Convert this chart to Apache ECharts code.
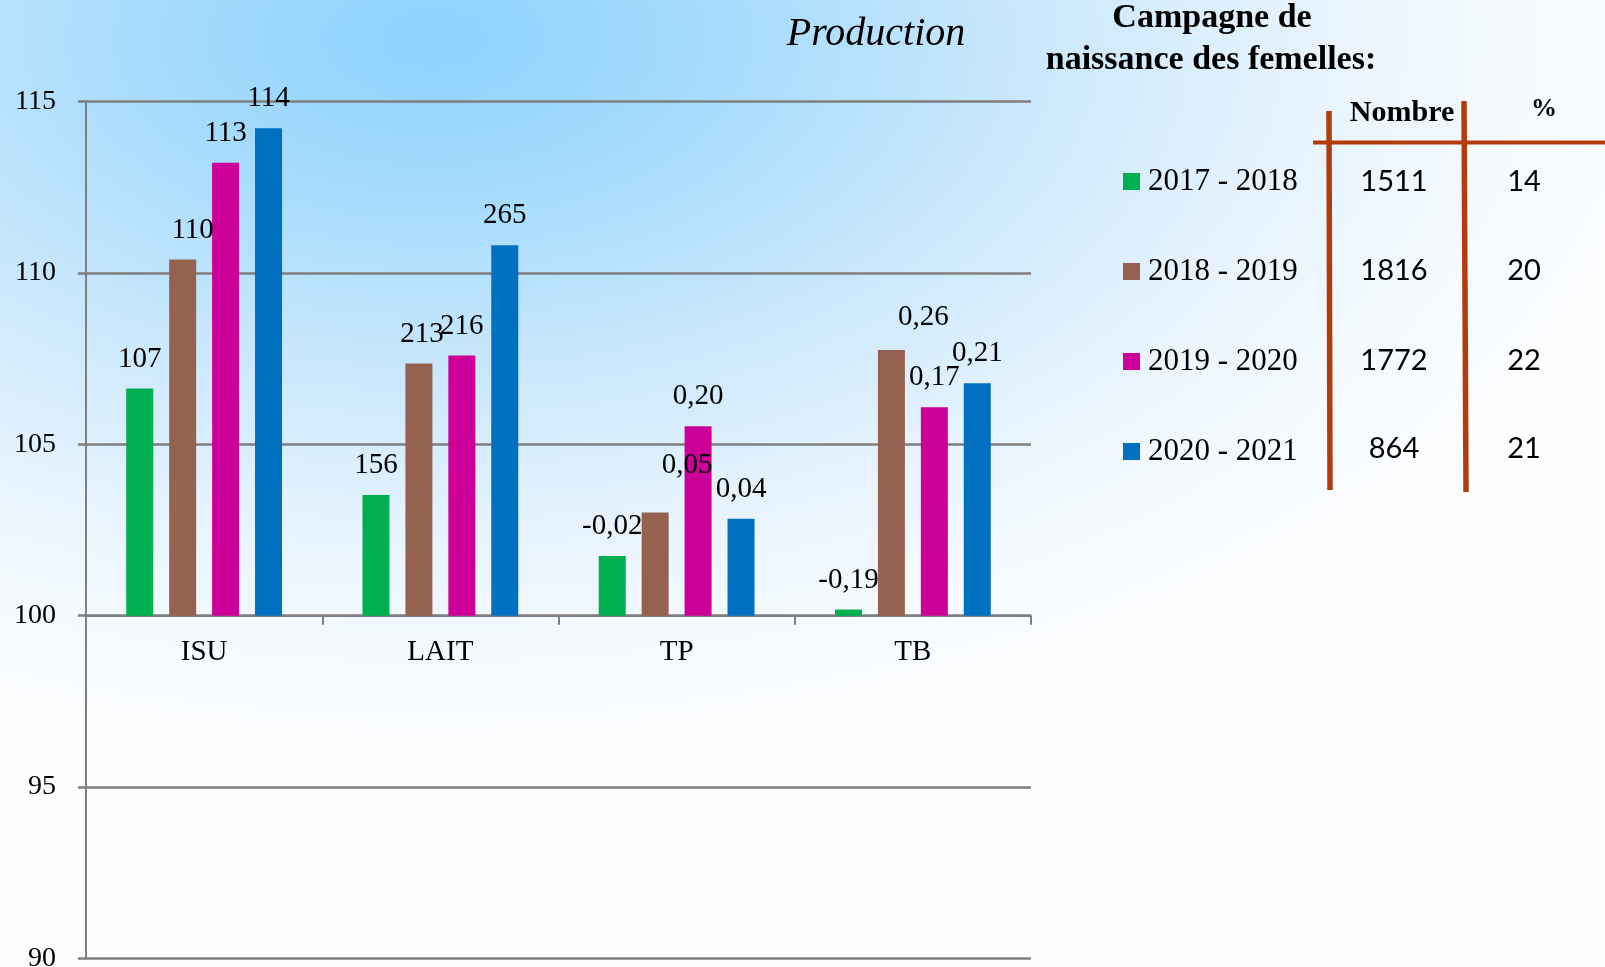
<!DOCTYPE html>
<html>
<head>
<meta charset="utf-8">
<script src="https://cdn.jsdelivr.net/npm/echarts@6/dist/echarts.min.js"></script>
<style>
html,body{margin:0;padding:0;width:1605px;height:967px;overflow:hidden;}
body{background:radial-gradient(ellipse 80% 75% at 27% 4%, #8cd2fd 0%, #a6dbfc 22%, #c8e7fc 45%, #e6f3fe 68%, #f7fbff 88%, #fdfeff 100%);}
#c{width:1605px;height:967px;}
</style>
</head>
<body>
<div id="c"></div>
<script>
const categories = ['ISU', 'LAIT', 'TP', 'TB'];
const seriesNames = ['2017 - 2018', '2018 - 2019', '2019 - 2020', '2020 - 2021'];
const values2017 = [106.63, 103.52, 101.74, 100.18];
const values2018 = [110.39, 107.36, 103.01, 107.75];
const values2019 = [113.21, 107.59, 105.53, 106.08];
const values2020 = [114.22, 110.81, 102.83, 106.78];
const labels2017 = ['107', '156', '-0,02', '-0,19'];
const labels2018 = ['110', '213', '0,05', '0,26'];
const labels2019 = ['113', '216', '0,20', '0,17'];
const labels2020 = ['114', '265', '0,04', '0,21'];
const yTicks = [90, 95, 100, 105, 110, 115];
const tableNombre = [1511, 1816, 1772, 864];
const tablePct = [14, 20, 22, 21];
const baseLine = 100;

const colors = ['#00b050', '#956250', '#cc0099', '#0070c0'];
const allValues = [values2017, values2018, values2019, values2020];
const allLabels = [labels2017, labels2018, labels2019, labels2020];
// label nudges (style, not data)
const labelNudge = {
  '1-0': [10, 0], '1-1': [3, 0], '1-2': [32, -18], '1-3': [32, -3]
};
const serif = '"Liberation Serif", "Times New Roman", serif';
const yMin = yTicks[0] - baseLine;
const yMax = yTicks[yTicks.length - 1] - baseLine;

const chart = echarts.init(document.getElementById('c'), null, {renderer: 'canvas'});

const series = allValues.map((vals, si) => ({
  name: seriesNames[si],
  type: 'bar',
  barWidth: 27,
  barGap: '59%',
  itemStyle: {color: colors[si]},
  data: vals.map((v, di) => {
    const item = {value: +(v - baseLine).toFixed(3)};
    const n = labelNudge[si + '-' + di];
    if (n) item.label = {offset: n};
    return item;
  }),
  label: {
    show: true,
    position: 'top',
    distance: 15,
    fontFamily: serif,
    fontSize: 29,
    color: '#000',
    formatter: p => allLabels[si][p.dataIndex]
  }
}));

const rowY = [182, 271, 361, 449];
const graphics = [
  {type: 'text', style: {text: 'Production', x: 876, y: 34, align: 'center', verticalAlign: 'middle', font: 'italic 40px ' + serif, fill: '#000'}},
  {type: 'text', style: {text: 'Campagne de', x: 1212, y: 18, align: 'center', verticalAlign: 'middle', font: 'bold 34px ' + serif, fill: '#000'}},
  {type: 'text', style: {text: 'naissance des femelles:', x: 1211, y: 60, align: 'center', verticalAlign: 'middle', font: 'bold 34px ' + serif, fill: '#000'}},
  {type: 'text', style: {text: 'Nombre', x: 1402, y: 113, align: 'center', verticalAlign: 'middle', font: 'bold 30px ' + serif, fill: '#000'}},
  {type: 'text', style: {text: '%', x: 1544, y: 109, align: 'center', verticalAlign: 'middle', font: 'bold 26px ' + serif, fill: '#000'}},
  {type: 'line', shape: {x1: 1313, y1: 142.5, x2: 1605, y2: 142.5}, style: {stroke: '#b33c0c', lineWidth: 4}},
  {type: 'line', shape: {x1: 1329, y1: 111, x2: 1330, y2: 490}, style: {stroke: '#b33c0c', lineWidth: 5.5}},
  {type: 'line', shape: {x1: 1464, y1: 101, x2: 1466, y2: 492}, style: {stroke: '#b33c0c', lineWidth: 5.5}}
];
tableNombre.forEach((v, i) => {
  graphics.push({type: 'text', style: {text: String(v), x: 1394, y: rowY[i], align: 'center', verticalAlign: 'middle', font: '29px Lato, "Open Sans", sans-serif', fill: '#000'}});
});
tablePct.forEach((v, i) => {
  graphics.push({type: 'text', style: {text: String(v), x: 1524, y: rowY[i], align: 'center', verticalAlign: 'middle', font: '29px Lato, "Open Sans", sans-serif', fill: '#000'}});
});

chart.setOption({
  backgroundColor: 'transparent',
  animation: false,
  grid: {left: 86, right: 574, top: 101.5, bottom: 8.5, containLabel: false, outerBoundsMode: 'none'},
  legend: {
    orient: 'vertical',
    left: 1118,
    top: 161,
    itemGap: 59,
    itemWidth: 17,
    itemHeight: 17,
    icon: 'rect',
    data: seriesNames,
    textStyle: {fontFamily: serif, fontSize: 31, color: '#000', padding: [0, 0, 0, 3]}
  },
  xAxis: {
    type: 'category',
    data: categories,
    axisLine: {onZero: false, lineStyle: {color: '#7f7f7f', width: 2}},
    axisTick: {show: true, alignWithLabel: false, length: 9, lineStyle: {color: '#7f7f7f', width: 2}},
    axisLabel: {fontFamily: serif, fontSize: 29, color: '#000', margin: 22}
  },
  yAxis: {
    type: 'value',
    min: yMin,
    max: yMax,
    interval: yTicks[1] - yTicks[0],
    axisLine: {show: true, lineStyle: {color: '#7f7f7f', width: 2}},
    axisTick: {show: true, length: 8, lineStyle: {color: '#7f7f7f', width: 2.5}},
    splitLine: {show: true, lineStyle: {color: '#7f7f7f', width: 2.5}},
    axisLabel: {fontFamily: serif, fontSize: 28, color: '#000', margin: 30, formatter: v => String(v + baseLine)}
  },
  graphic: graphics,
  series: series
});

// place the category axis on the baseline (value 100) using the value scale
const yZero = chart.convertToPixel({yAxisIndex: 0}, 0);
const yBottom = chart.convertToPixel({yAxisIndex: 0}, yMin);
chart.setOption({xAxis: {offset: yZero - yBottom}});
</script>
</body>
</html>
